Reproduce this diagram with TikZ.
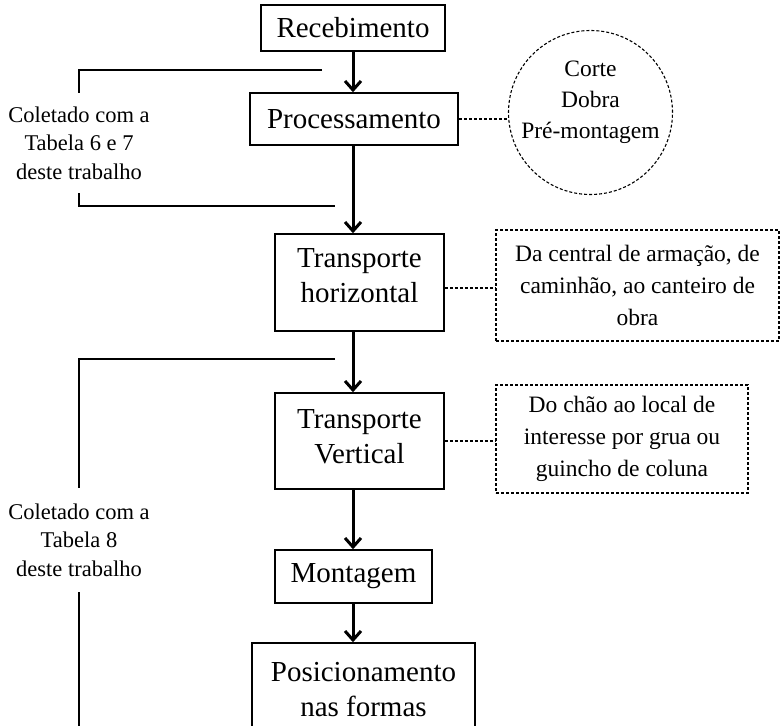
\documentclass[tikz,border=0pt]{standalone}
\usepackage{fontspec}
\setmainfont{Liberation Serif}
\usetikzlibrary{arrows.meta,shapes.geometric}

\tikzset{
  stagebox/.style={draw, line width=1.5pt, inner sep=0pt, align=center,
    font=\fontsize{29}{35}\selectfont},
  stagetext/.style={inner sep=0pt, align=center, font=\fontsize{29}{35}\selectfont},
  notebox/.style={draw, dash pattern=on 3pt off 2pt, line width=1.1pt, inner sep=0pt,
    align=center, font=\fontsize{23.5}{32}\selectfont},
  notecircle/.style={draw, circle, dash pattern=on 3pt off 2pt, line width=1.1pt,
    inner sep=0pt},
  sidelabel/.style={align=center, inner sep=0pt, font=\fontsize{22.5}{28.5}\selectfont},
  flow/.style={line width=3pt, -{Straight Barb[length=9pt,width=16pt]}},
  bracket/.style={line width=1.5pt},
  notelink/.style={dash pattern=on 3pt off 2pt, line width=1.1pt}
}

\begin{document}
\begin{tikzpicture}[x=1pt,y=-1pt]
  \useasboundingbox (0,0) rectangle (783,725);
  \clip (0,0) rectangle (783,725);

  % main flow
  \coordinate (axis) at (353,0);
  \node[stagebox, minimum width=184pt, minimum height=46pt] (rec) at (353,28) {Recebimento};
  \node[stagebox, minimum width=208pt, minimum height=52pt] (proc) at (354,119) {Processamento};
  \node[stagebox, minimum width=169pt, minimum height=97pt] (th) at (359.5,282.5) {};
  \node[stagetext] (thtxt) at (359.5,276) {Transporte\\horizontal};
  \node[stagebox, minimum width=169pt, minimum height=96pt] (tv) at (359.5,441) {};
  \node[stagetext] (tvtxt) at (359.5,437) {Transporte\\Vertical};
  \node[stagebox, minimum width=157pt, minimum height=53pt] (mont) at (353.5,576.5) {Montagem};
  \node[stagebox, minimum width=223pt, minimum height=94pt] (pos) at (363.5,690) {Posicionamento\\nas formas};

  \draw[flow] (rec.south -| axis) -- (proc.north -| axis);
  \draw[flow] (proc.south -| axis) -- (th.north -| axis);
  \draw[flow] (th.south -| axis) -- (tv.north -| axis);
  \draw[flow] (tv.south -| axis) -- (mont.north -| axis);
  \draw[flow] (mont.south -| axis) -- (pos.north -| axis);

  % notes on the right
  \node[notecircle, minimum size=164pt] (circ) at (590.5,112.5) {};
  \node[align=center, inner sep=0pt, font=\fontsize{23.5}{31}\selectfont] (circtxt) at (590.5,102) {Corte\\Dobra\\Pré-montagem};
  \node[notebox, minimum width=283pt, minimum height=111pt] (d1) at (637.5,285.5)
    {Da central de armação, de\\caminhão, ao canteiro de\\obra};
  \node[notebox, minimum width=252pt, minimum height=108pt] (d2) at (622,439)
    {Do chão ao local de\\interesse por grua ou\\guincho de coluna};

  \draw[notelink] (proc.east) -- (proc.east -| circ.west);
  \draw[notelink] ([yshift=-5.5pt]th.east) -- ([yshift=-5.5pt]th.east -| d1.west);
  \draw[notelink] (tv.east) -- (tv.east -| d2.west);

  % data collection brackets on the left
  \node[sidelabel, minimum height=100pt] (lab1) at (79,143) {Coletado com a\\Tabela 6 e 7\\deste trabalho};
  \node[sidelabel, minimum height=104pt] (lab2) at (79,540) {Coletado com a\\Tabela 8\\deste trabalho};
  \coordinate (t1) at (322,70);
  \coordinate (t2) at (335,206);
  \coordinate (t3) at (335,359);
  \coordinate (bottom) at (79,740);

  \draw[bracket] (t1) -| (lab1.north);
  \draw[bracket] (lab1.south) |- (t2);
  \draw[bracket] (t3) -| (lab2.north);
  \draw[bracket] (lab2.south) -- (bottom);
\end{tikzpicture}
\end{document}
